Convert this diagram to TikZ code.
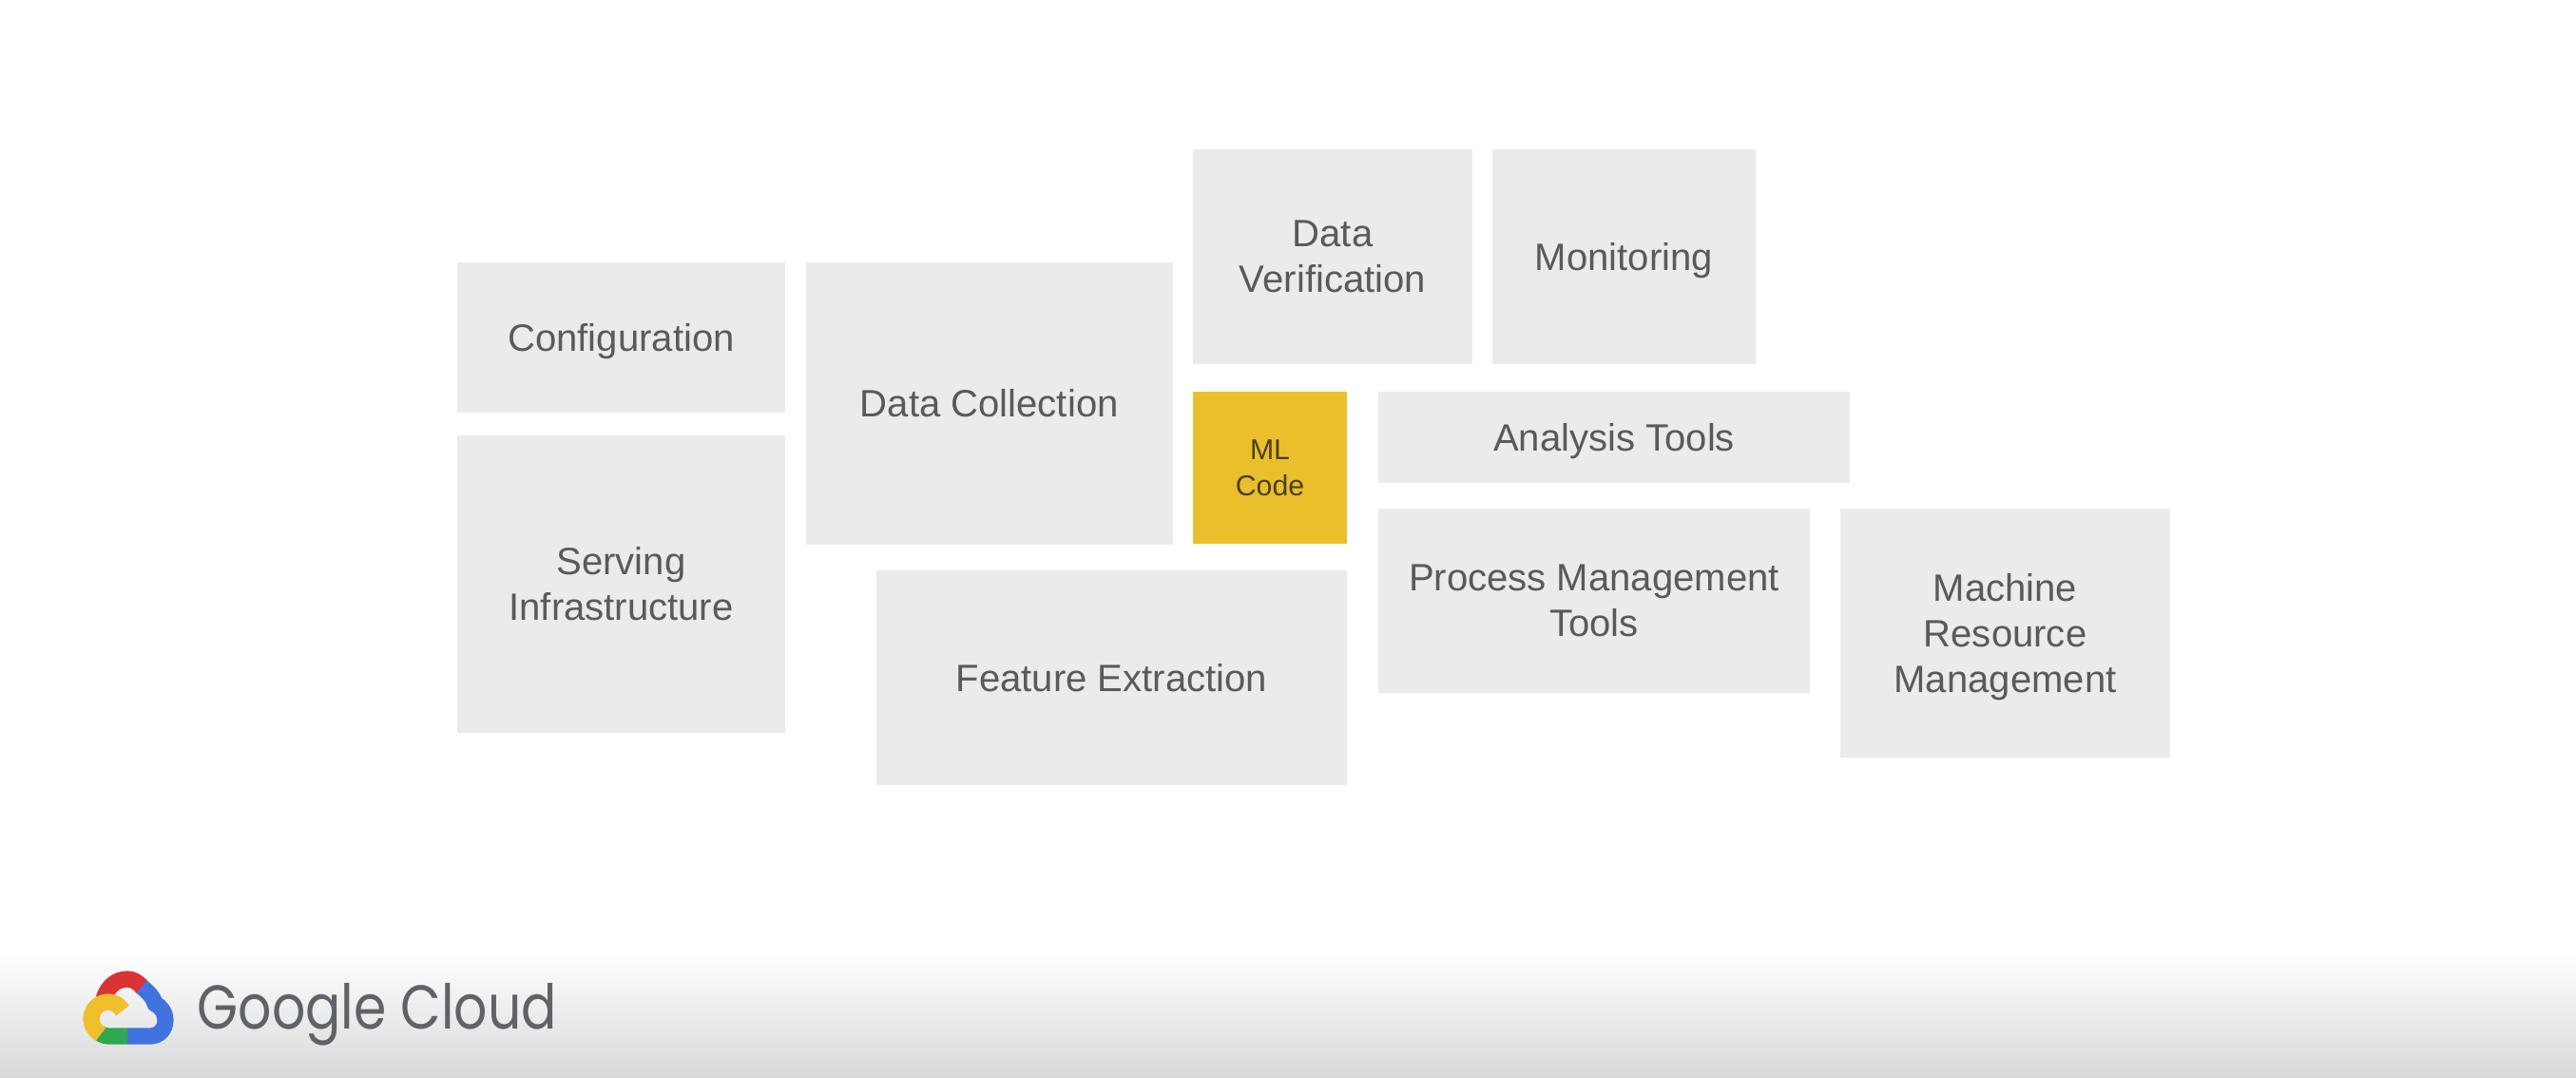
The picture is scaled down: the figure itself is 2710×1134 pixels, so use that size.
\documentclass[tikz,border=0pt]{standalone}
\usepackage{fontspec}
\setmainfont{Liberation Sans}
\newfontfamily\logofont{Poppins}
\definecolor{boxgray}{HTML}{EBEBEA}
\definecolor{boxtext}{HTML}{595A5B}
\definecolor{mlyellow}{HTML}{EABF2C}
\definecolor{mltext}{HTML}{4B3F1C}
\definecolor{logotext}{HTML}{5F6368}
\definecolor{gred}{HTML}{DB3236}
\definecolor{gblue}{HTML}{4072E0}
\definecolor{ggreen}{HTML}{2FA84F}
\definecolor{gyellow}{HTML}{F1BE2C}
\tikzset{
  block/.style 2 args={draw=none,fill=boxgray,text=boxtext,align=center,inner sep=0pt,
    minimum width=#1*0.01cm,minimum height=#2*0.01cm,
    font=\fontsize{11.4pt}{13.6pt}\selectfont},
  mlblock/.style 2 args={draw=none,fill=mlyellow,text=mltext,align=center,inner sep=0pt,
    minimum width=#1*0.01cm,minimum height=#2*0.01cm,
    font=\fontsize{8.6pt}{10.8pt}\selectfont},
  nodepth/.style={text depth=0pt},
  cloudpart/.style={line width=4.9pt,line cap=butt,line join=round}
}
\begin{document}
\begin{tikzpicture}[x=0.01cm,y=-0.01cm]
\useasboundingbox (0,0) rectangle (2710,1134);
\fill[white] (0,0) rectangle (2710,1000);
\shade[top color=white,middle color=white!96!black,bottom color=white!85!black] (0,1000) rectangle (2710,1134);

\node[block={345}{158},nodepth] (config) at (653.5,355) {Configuration};
\node[block={345}{313}] (serving) at (653.5,614.5) {Serving\\Infrastructure};
\node[block={385.5}{297}] (collect) at (1040.75,424.5) {Data Collection};
\node[block={294.5}{226}] (verify) at (1402,270) {Data\\Verification};
\node[block={277}{226},nodepth] (monitor) at (1708.5,270) {Monitoring};
\node[mlblock={162}{160}] (ml) at (1336,492) {ML\\Code};
\node[block={496}{96.5},nodepth] (analysis) at (1698,460) {Analysis Tools};
\node[block={454}{194}] (process) at (1677,632) {Process Management\\Tools};
\node[block={347}{262},nodepth] (machine) at (2109.5,666) {Machine\\Resource\\Management};
\node[block={495}{226}] (feature) at (1169.5,713) {Feature Extraction};

% Google Cloud logo
\draw[cloudpart,gred] (109,1051) .. controls (113,1038) and (122,1030) .. (134,1030) .. controls (140,1030) and (145,1033) .. (150,1039);
\draw[cloudpart,gblue] (149,1038) .. controls (155,1043) and (161,1048) .. (163,1056) .. controls (170,1059) and (174,1066) .. (174,1073) .. controls (174,1083) and (167,1090) .. (158,1090) -- (134,1090);
\draw[cloudpart,ggreen] (134,1090) -- (114,1090) .. controls (111,1090) and (108,1089) .. (105,1087);
\draw[cloudpart,gyellow] (106,1088) .. controls (100,1084) and (96,1079) .. (96,1072) .. controls (96,1062) and (104,1054) .. (114,1054) .. controls (120,1054) and (125,1057) .. (129,1063);

\node[text=logotext,inner sep=0pt,anchor=west] (brand) at (207,1067)
  {\scalebox{0.85}[1]{\logofont\fontsize{18.5pt}{22pt}\selectfont Google Cloud}};
\end{tikzpicture}
\end{document}
